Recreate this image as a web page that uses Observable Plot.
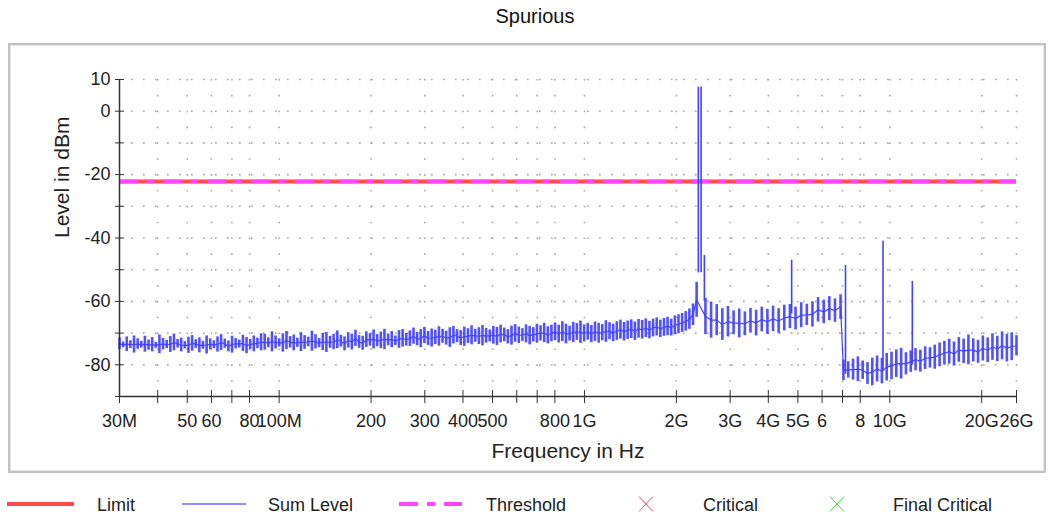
<!DOCTYPE html>
<html><head><meta charset="utf-8">
<script src="https://cdn.jsdelivr.net/npm/d3@7"></script>
<script src="https://cdn.jsdelivr.net/npm/@observablehq/plot@0.6"></script>
<style>
body{margin:0;background:#fff;font-family:"Liberation Sans",Arial,sans-serif;}
#wrap{position:relative;width:1049px;height:518px;overflow:hidden;}
#title{position:absolute;top:5px;left:535px;transform:translateX(-50%);font-size:20px;line-height:22px;color:#111;white-space:nowrap;}
#box{position:absolute;left:8px;top:43px;width:1038px;height:430px;box-sizing:border-box;border:2px solid #c2c2c2;box-shadow:inset 0 0 0 1px #e6e6e6;}
#chart{position:absolute;left:0;top:0;}
#legend{position:absolute;left:0;top:488px;}
</style></head><body>
<div id="wrap"><div id="title"></div><div id="box"></div><div id="chart"></div><svg id="legend" width="1049" height="30"></svg></div>
<script>
// ---------------- data ----------------
const chartTitle = "Spurious";
const xLabel = "Frequency in Hz";
const yLabel = "Level in dBm";
const xTickValues = [30e6,40e6,50e6,60e6,70e6,80e6,100e6,200e6,300e6,400e6,500e6,600e6,700e6,800e6,1e9,2e9,3e9,4e9,5e9,6e9,7e9,8e9,10e9,20e9,26e9];
const xTickLabels = ["30M","","50","60","","80","100M","200","300","400","500","","","800","1G","2G","3G","4G","5G","6","","8","10G","20G","26G"];
const yTickValues = [10,0,-10,-20,-30,-40,-50,-60,-70,-80,-90];
const yTickLabels = ["10","0","","-20","","-40","","-60","","-80",""];
const limitLevel = -22.2;
const thresholdLevel = -22.2;
// sweep ranges (MHz)
const sweepStartMHz = [30, 2490, 7050];
const sweepStopMHz = [2330, 6900, 26000];
// sweep 1: 30 MHz - 2.33 GHz, max/min per bin (dBm)
const sweep1High = [
-71.5,-72.8,-71.2,-72.4,-70.9,-71.8,-72.6,-71.0,-72.2,-71.4,
-72.9,-70.6,-71.7,-72.3,-71.1,-70.3,-72.0,-71.6,-72.7,-71.3,
-70.8,-72.1,-71.5,-72.6,-70.9,-71.8,-72.4,-71.2,-70.5,-71.9,
-72.5,-71.0,-71.7,-72.2,-70.7,-71.4,-72.0,-70.9,-71.6,-70.2,
-70.4,-71.5,-69.6,-70.9,-71.8,-70.2,-69.5,-71.1,-70.6,-71.6,
-69.9,-70.8,-71.3,-69.4,-70.5,-71.7,-70.1,-69.8,-71.0,-70.4,
-69.3,-70.7,-71.2,-69.9,-70.3,-69.1,-70.8,-71.0,-69.6,-70.2,
-69.0,-70.5,-69.7,-68.8,-70.3,-69.5,-70.9,-69.2,-68.9,-70.1,
-69.3,-68.4,-69.8,-68.9,-68.2,-69.5,-68.7,-69.1,-68.0,-68.8,
-69.4,-68.3,-67.9,-68.9,-69.2,-68.1,-68.6,-67.7,-68.8,-68.3,
-67.6,-68.5,-69.0,-67.9,-68.2,-67.5,-68.4,-68.9,-67.8,-67.3,
-68.1,-68.6,-67.4,-67.9,-68.3,-67.2,-67.7,-66.9,-68.0,-67.5,
-66.8,-67.5,-66.4,-67.2,-67.8,-66.6,-67.0,-66.2,-67.4,-66.9,
-67.6,-66.5,-66.9,-67.3,-66.1,-66.7,-67.2,-66.4,-65.9,-66.6,
-66.2,-65.8,-66.5,-65.7,-66.0,-65.5,-66.3,-65.6,-65.2,-65.9,
-65.4,-65.0,-65.6,-64.6,-64.2,-63.8,-63.2,-62.4,-60.8,-54.0
];
const sweep1Low = [
-75.2,-74.6,-75.8,-74.9,-76.3,-75.1,-74.7,-76.0,-75.4,-75.9,
-74.8,-76.5,-75.3,-74.9,-76.1,-75.6,-74.7,-75.9,-75.0,-76.4,
-75.7,-74.8,-76.2,-75.1,-76.6,-75.3,-74.9,-76.0,-75.5,-74.8,
-75.9,-76.3,-75.0,-74.7,-75.8,-76.5,-75.2,-75.9,-74.9,-75.6,
-75.4,-74.6,-75.9,-75.0,-74.4,-76.0,-75.2,-74.7,-75.6,-74.5,
-75.8,-75.1,-74.3,-75.7,-75.0,-74.6,-75.5,-76.1,-74.8,-75.2,
-74.9,-74.4,-75.6,-74.7,-75.3,-74.2,-74.8,-75.4,-74.5,-74.1,
-75.0,-74.3,-74.9,-75.2,-74.0,-74.6,-73.9,-74.8,-74.4,-74.1,
-74.2,-73.5,-74.0,-74.6,-73.3,-73.9,-74.4,-73.6,-74.1,-73.2,
-73.8,-74.5,-73.4,-73.0,-73.9,-74.2,-73.3,-73.7,-72.9,-73.6,
-74.0,-73.2,-72.8,-73.5,-73.9,-73.1,-72.7,-73.4,-73.8,-72.9,
-73.3,-72.6,-73.1,-73.7,-72.8,-73.2,-72.5,-73.0,-73.4,-72.7,
-72.4,-73.1,-72.7,-73.4,-72.5,-73.0,-72.3,-73.3,-72.8,-72.2,
-73.0,-72.6,-73.2,-72.4,-72.9,-72.1,-72.7,-72.3,-71.9,-72.5,
-72.0,-71.7,-72.3,-71.6,-71.9,-71.4,-71.8,-71.2,-70.9,-71.4,
-71.0,-70.8,-70.9,-70.5,-70.2,-69.8,-69.4,-68.8,-67.6,-65.0
];
// sweep 2: 2.49 GHz - 6.9 GHz
const sweep2High = [
-59.0,-60.2,-61.0,-62.3,-61.6,-63.0,-62.4,-63.3,-62.2,-62.8,
-61.8,-62.5,-61.5,-62.3,-61.2,-61.0,-61.8,-60.4,-60.9,-60.1,
-58.8,-59.6,-58.5,-59.2,-57.9
];
const sweep2Low = [
-70.5,-71.6,-70.8,-72.3,-71.2,-70.5,-71.5,-70.8,-70.0,-70.9,
-69.6,-70.4,-69.5,-70.1,-69.3,-68.6,-69.0,-68.3,-67.6,-68.1,
-66.5,-67.0,-66.1,-66.6,-65.7
];
// sweep 3: 7.05 GHz - 26 GHz
const sweep3High = [
-78.5,-79.0,-78.2,-77.5,-78.8,-79.3,-77.9,-77.2,-78.0,-76.4,
-76.0,-75.3,-74.8,-76.2,-75.6,-74.9,-75.4,-74.3,-74.6,-73.8,
-73.1,-72.6,-71.9,-72.8,-71.4,-71.9,-70.6,-71.8,-72.3,-70.9,
-71.5,-70.2,-71.0,-69.6,-70.4,-69.9,-70.8
];
const sweep3Low = [
-85.0,-84.2,-84.8,-85.3,-84.6,-86.2,-86.6,-85.4,-86.0,-85.1,
-84.7,-84.0,-84.5,-83.2,-82.4,-81.9,-82.3,-81.5,-81.0,-81.4,
-80.6,-80.1,-79.8,-80.4,-79.2,-79.6,-80.0,-79.1,-79.5,-78.8,
-79.3,-78.6,-79.0,-78.4,-79.1,-78.7,-77.2
];
// discrete spurs
const spurFreqMHz = [2360, 2410, 2470, 4770, 7160, 9500, 11850];
const spurTop = [7.6, 7.6, -45.5, -47.0, -48.7, -41.0, -53.7];
const spurBase = [-51.0, -51.0, -60.0, -64.0, -83.0, -82.0, -80.0];
const legendNames = ["Limit", "Sum Level", "Threshold", "Critical", "Final Critical"];

// ---------------- build ----------------
document.getElementById("title").textContent = chartTitle;
const highs = [sweep1High, sweep2High, sweep3High];
const lows = [sweep1Low, sweep2Low, sweep3Low];
const bins = [];
highs.forEach((hi, s) => {
  const n = hi.length, a = sweepStartMHz[s], b = sweepStopMHz[s];
  hi.forEach((h, i) => {
    const f = a * Math.pow(b / a, i / (n - 1)) * 1e6;
    const l = lows[s][i];
    bins.push({f, hi: h, lo: l, mid: (h + l) / 2});
  });
});
const spurs = spurFreqMHz.map((f, i) => ({f: f * 1e6, top: spurTop[i], base: spurBase[i]}));
const xTicks = xTickValues.map((v, i) => ({v, label: xTickLabels[i]}));
const yTicks = yTickValues.map((v, i) => ({v, label: yTickLabels[i]}));
const blue = "#4242ff";
const axisColor = "#333";
const font = "'Liberation Sans', Arial, sans-serif";

const chart = Plot.plot({
  width: 1049, height: 470,
  marginLeft: 119, marginRight: 33, marginTop: 79, marginBottom: 74,
  style: {fontFamily: font, fontSize: "18px", color: "#222", background: "transparent", overflow: "visible"},
  x: {type: "log", domain: [30e6, 26e9], axis: null},
  y: {domain: [-90, 10], axis: null},
  marks: [
    Plot.ruleY(yTickValues.filter(v => v > -90), {stroke: "#a6a6a6", strokeWidth: 1.6, strokeDasharray: "1.6,10.4"}),
    Plot.ruleX(xTickValues.filter(v => v > 30e6), {stroke: "#a6a6a6", strokeWidth: 1.6, strokeDasharray: "1.6,14.25"}),
    Plot.ruleY([limitLevel], {stroke: "#ff4b4b", strokeWidth: 4}),
    Plot.ruleY([thresholdLevel], {stroke: "#ff45ff", strokeWidth: 4, strokeDasharray: "19,8.5,7.5,9"}),
    Plot.ruleX(bins, {x: "f", y1: "lo", y2: "hi", stroke: blue, strokeWidth: 2.6, strokeOpacity: 0.92}),
    Plot.line(bins, {x: "f", y: "mid", stroke: blue, strokeWidth: 1.2}),
    Plot.ruleX(spurs, {x: "f", y1: "base", y2: "top", stroke: blue, strokeWidth: 1.6}),
    Plot.ruleX([30e6], {stroke: axisColor, strokeWidth: 1.5}),
    Plot.ruleY([-90], {stroke: axisColor, strokeWidth: 1.5}),
    Plot.axisX(xTickValues, {tickSize: 13, dy: -6, tickFormat: () => "", stroke: axisColor, label: null}),
    Plot.text(xTicks, {x: "v", text: "label", frameAnchor: "bottom", lineAnchor: "top", dy: 18, fontSize: 18, fill: "#222"}),
    Plot.axisY(yTickValues, {tickSize: 9, dx: 5, tickFormat: () => "", stroke: axisColor, label: null}),
    Plot.text(yTicks, {y: "v", text: "label", frameAnchor: "left", textAnchor: "end", dx: -9, fontSize: 18, fill: "#222"}),
    Plot.text([xLabel], {text: d => d, frameAnchor: "bottom", dy: 61, fontSize: 21, fill: "#222"}),
    Plot.text([yLabel], {text: d => d, frameAnchor: "left", dx: -57, rotate: -90, fontSize: 21, fill: "#222"})
  ]
});
document.getElementById("chart").appendChild(chart);

// ---------------- legend ----------------
const lg = d3.select("#legend");
const cy = 16;
lg.append("line").attr("x1", 7).attr("x2", 74).attr("y1", cy).attr("y2", cy).attr("stroke", "#ff4b4b").attr("stroke-width", 4);
lg.append("line").attr("x1", 182).attr("x2", 246).attr("y1", cy).attr("y2", cy).attr("stroke", "#6a6aff").attr("stroke-width", 1.3);
lg.append("line").attr("x1", 399).attr("x2", 462).attr("y1", cy).attr("y2", cy).attr("stroke", "#ff45ff").attr("stroke-width", 4).attr("stroke-dasharray", "19,9,8,9");
const cross = (cx, col) => {
  lg.append("line").attr("x1", cx - 7).attr("x2", cx + 7).attr("y1", cy - 7.5).attr("y2", cy + 7.5).attr("stroke", col).attr("stroke-width", 1);
  lg.append("line").attr("x1", cx + 7).attr("x2", cx - 7).attr("y1", cy - 7.5).attr("y2", cy + 7.5).attr("stroke", col).attr("stroke-width", 1);
};
cross(646, "#ff5050");
cross(837, "#33dd33");
const textX = [97, 268, 486, 703, 893];
legendNames.forEach((t, i) => {
  lg.append("text").attr("x", textX[i]).attr("y", cy + 6.5).attr("font-size", 18).attr("fill", "#222")
    .attr("font-family", font).text(t);
});
</script></body></html>
